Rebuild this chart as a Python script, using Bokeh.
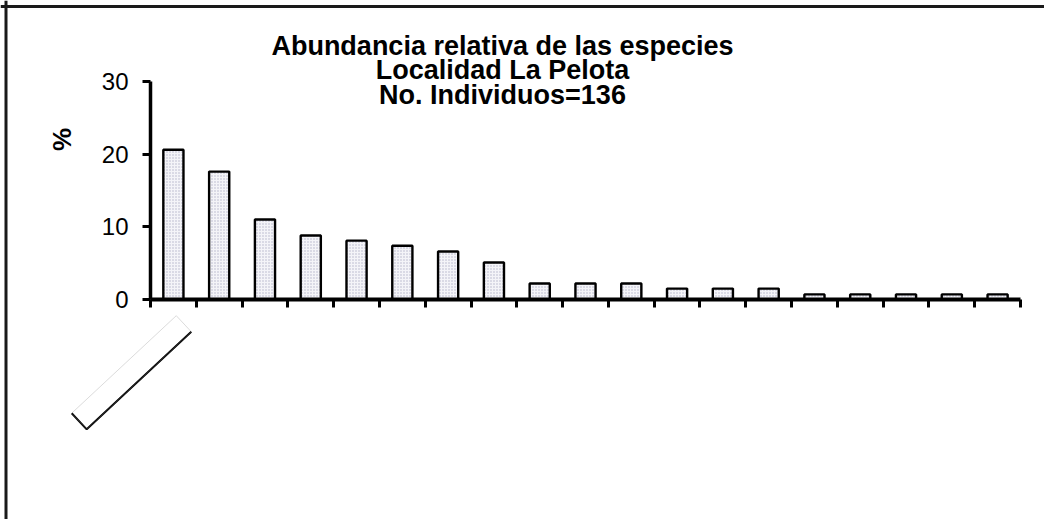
import math
from bokeh.plotting import figure
from bokeh.models import Range1d, FixedTicker, Label, PolyAnnotation, CustomJSTickFormatter, LinearAxis, Span
from bokeh.embed import file_html
from bokeh.resources import INLINE

# ---- data ----
rank = [1, 2, 3, 4, 5, 6, 7, 8, 9, 10, 11, 12, 13, 14, 15, 16, 17, 18, 19]
percent = [20.6, 17.6, 11.0, 8.8, 8.1, 7.4, 6.6, 5.1, 2.2, 2.2, 2.2,
           1.5, 1.5, 1.5, 0.7, 0.7, 0.7, 0.7, 0.7]
y_ticks = [0, 10, 20, 30]
title_lines = ["Abundancia relativa de las especies",
               "Localidad La Pelota",
               "No. Individuos=136"]
y_label = "%"

# ---- layout (picture pixel coordinates) ----
X0 = 0
W, H = 1044, 519
FL, FR, FT, FB = 150, 1020, 81, 299   # where the data box sits in the picture
XMIN, XMAX, YMIN, YMAX = 0.5, 19.5, 0, 30

def dx(px):
    return XMIN + (px - FL) * (XMAX - XMIN) / (FR - FL)

def dy(py):
    return YMIN + (FB - py) * (YMAX - YMIN) / (FB - FT)

FONT = "Liberation Sans"

p = figure(width=W, height=H, output_backend="svg", toolbar_location=None,
           x_range=Range1d(dx(X0), dx(X0 + W)), y_range=Range1d(dy(X0 + H), dy(X0)),
           x_axis_location=None, y_axis_location=None, min_border=0)
p.outline_line_color = None
p.xgrid.grid_line_color = None
p.ygrid.grid_line_color = None
p.background_fill_color = "white"
p.border_fill_color = "white"

# chart-area frame (top and left edges visible)
p.add_layout(Span(location=dx(5.5), dimension="height", line_color="#1a1a1a", line_width=3))
p.add_layout(Span(location=dy(6), dimension="width", line_color="#1a1a1a", line_width=3))

p.vbar(x=rank, top=percent, bottom=0, width=0.44,
       fill_color="#f4f4f8", hatch_pattern="dot", hatch_color="#b4b4c8",
       hatch_scale=3, hatch_weight=1,
       line_color="black", line_width=2.4)

# y axis
ya = LinearAxis(fixed_location=XMIN, bounds=(YMIN, YMAX), ticker=FixedTicker(ticks=y_ticks))
ya.axis_line_width = 3.5
ya.axis_line_color = "black"
ya.major_tick_line_width = 3
ya.major_tick_line_color = "black"
ya.major_tick_out = 8
ya.major_tick_in = 0
ya.minor_tick_line_color = None
ya.major_label_text_font = FONT
ya.major_label_text_font_size = "24px"
ya.major_label_text_color = "black"
ya.major_label_standoff = 14
p.add_layout(ya, "left")

# x axis
xa = LinearAxis(fixed_location=YMIN, bounds=(XMIN, XMAX),
                ticker=FixedTicker(ticks=[r + 0.5 for r in [0] + rank]),
                formatter=CustomJSTickFormatter(code="return ''"))
xa.axis_line_width = 4
xa.axis_line_color = "black"
xa.major_tick_line_width = 3
xa.major_tick_line_color = "black"
xa.major_tick_out = 8
xa.major_tick_in = 0
xa.minor_tick_line_color = None
p.add_layout(xa, "below")

# title lines
for line, py in zip(title_lines, [45, 69.5, 94]):
    p.add_layout(Label(x=dx(502), y=dy(py), text=line, text_align="center",
                       text_baseline="alphabetic", text_font=FONT,
                       text_font_style="bold", text_font_size="27px",
                       text_color="black"))

# y axis title
p.add_layout(Label(x=dx(61), y=dy(139), text=y_label, angle=math.pi / 2,
                   text_align="center", text_baseline="middle", text_font=FONT,
                   text_font_style="bold", text_font_size="26px",
                   text_color="black"))

# empty rotated category-label box under the first bar
cx, cy, L, Wb, ang = 131, 372, 143, 22, math.radians(43)
ux, uy = math.cos(ang), -math.sin(ang)
vx, vy = math.sin(ang), math.cos(ang)
corners = [(-L / 2, -Wb / 2), (L / 2, -Wb / 2), (L / 2, Wb / 2), (-L / 2, Wb / 2)]
xs = [dx(cx + a * ux + b * vx) for a, b in corners]
ys = [dy(cy + a * uy + b * vy) for a, b in corners]
p.add_layout(PolyAnnotation(xs=xs, ys=ys, fill_color=None,
                            line_color="#888888", line_width=1))
p.line(x=[xs[0], xs[3], xs[2]], y=[ys[0], ys[3], ys[2]], line_color="black", line_width=2)

open("out.html", "w").write(file_html(p, INLINE))
